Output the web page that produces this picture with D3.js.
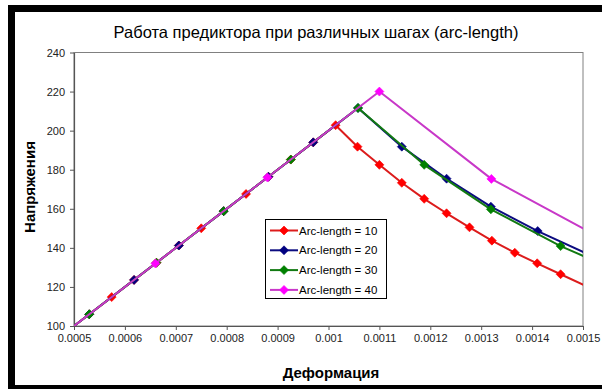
<!DOCTYPE html>
<html><head><meta charset="utf-8">
<script src="https://cdn.jsdelivr.net/npm/d3@7"></script>
<style>
body{margin:0;background:#fff}
svg{display:block}
text{font-family:"Liberation Sans",Arial,sans-serif}
</style>
</head><body>
<svg id="c" width="602" height="389"></svg>
<script>
// ---- data ----
const title = "Работа предиктора при различных шагах (arc-length)";
const xTitle = "Деформация";
const yTitle = "Напряжения";
const seriesNames = ["Arc-length = 10","Arc-length = 20","Arc-length = 30","Arc-length = 40"];
const xTickValues = [0.0005,0.0006,0.0007,0.0008,0.0009,0.001,0.0011,0.0012,0.0013,0.0014,0.0015];
const xTickLabels = ["0.0005","0.0006","0.0007","0.0008","0.0009","0.001","0.0011","0.0012","0.0013","0.0014","0.0015"];
const yTickValues = [100,120,140,160,180,200,220,240];

const strain10 = [0.000486,0.00053,0.000574,0.000618,0.000662,0.000706,0.00075,0.000794,0.000838,0.000882,0.000926,0.00097,0.001014,0.001057,0.0011,0.001144,0.001188,0.001232,0.001277,0.001321,0.001366,0.00141,0.001456,0.001502];
const stress10 = [97.2,106,114.8,123.6,132.4,141.2,150,158.8,167.6,176.4,185.2,194,202.8,191.8,182.5,173.3,165.1,157.7,150.5,143.7,137.5,132.1,126.5,120.9];

const strain20 = [0.000442,0.00053,0.000618,0.000706,0.000794,0.000882,0.00097,0.001058,0.001144,0.001232,0.001319,0.001411,0.001505];
const stress20 = [88.4,106,123.6,141.2,158.8,176.4,194,211.6,191.8,175.4,161.1,148.6,137.3];

const strain30 = [0.000398,0.00053,0.000662,0.000794,0.000926,0.001058,0.001188,0.001319,0.001456,0.001592];
const stress30 = [79.6,106,132.4,158.8,185.2,211.6,182.5,159.7,140.9,125.5];

const strain40 = [0.00044,0.00066,0.00088,0.0011,0.00132,0.00154];
const stress40 = [88,132,176,220,175.3,144.3];

const lineColors = ["#dc1c1c","#0c0c80","#127a12","#c838c8"];
const markerColors = ["#ff0000","#000080","#008000","#ff00ff"];

// ---- build ----
const strains = [strain10,strain20,strain30,strain40];
const stresses = [stress10,stress20,stress30,stress40];
const series = seriesNames.map((name,i)=>({name, line:lineColors[i], marker:markerColors[i],
  pts: strains[i].map((x,j)=>({x, y:stresses[i][j]}))}));

const svg = d3.select("#c");
const W = 602, H = 389;
const plot = {left:74, right:583, top:52.5, bottom:326};

// outer frame
svg.append("rect").attr("x",8).attr("y",5).attr("width",W).attr("height",H).attr("fill","#000");
svg.append("rect").attr("x",15).attr("y",12).attr("width",W-15).attr("height",385-12).attr("fill","#fff");

const x = d3.scaleLinear().domain([0.0005,0.0015]).range([plot.left,plot.right]);
const y = d3.scaleLinear().domain([100,240]).range([plot.bottom,plot.top]);

// plot area border
svg.append("rect").attr("x",plot.left).attr("y",plot.top)
  .attr("width",plot.right-plot.left).attr("height",plot.bottom-plot.top)
  .attr("fill","#fff").attr("stroke","#808080").attr("stroke-width",1);

svg.append("defs").append("clipPath").attr("id","clip")
  .append("rect").attr("x",plot.left).attr("y",plot.top)
  .attr("width",plot.right-plot.left).attr("height",plot.bottom-plot.top);

// axes
const xAxis = d3.axisBottom(x).tickValues(xTickValues)
  .tickFormat((d,i)=>xTickLabels[i]).tickSize(4).tickSizeOuter(0).tickPadding(4);
const gx = svg.append("g").attr("transform",`translate(0,${plot.bottom})`).call(xAxis);
const yAxis = d3.axisLeft(y).tickValues(yTickValues).tickSize(4).tickSizeOuter(0).tickPadding(5);
const gy = svg.append("g").attr("transform",`translate(${plot.left},0)`).call(yAxis);
[gx,gy].forEach(g=>{
  g.select(".domain").attr("stroke","#555").attr("stroke-width",1.2);
  g.selectAll(".tick line").attr("stroke","#555");
  g.selectAll(".tick text").attr("fill","#222").style("font-size","11px")
   .style("font-family",'"Liberation Sans",Arial,sans-serif');
});

// series
const line = d3.line().x(d=>x(d.x)).y(d=>y(d.y));
const diamond = "M0,-4.5L4.5,0L0,4.5L-4.5,0Z";
const gs = svg.append("g").attr("clip-path","url(#clip)");
series.forEach(s=>{
  const g = gs.append("g");
  g.append("path").datum(s.pts).attr("d",line).attr("fill","none")
    .attr("stroke",s.line).attr("stroke-width",2).attr("stroke-linejoin","round");
  g.selectAll("path.m").data(s.pts.filter(d=>d.x>0.0005 && d.x<=0.0015)).join("path")
    .attr("class","m").attr("d",diamond)
    .attr("transform",d=>`translate(${x(d.x)},${y(d.y)})`)
    .attr("fill",s.marker).attr("stroke",s.marker).attr("stroke-width",0.6);
});

// title & axis titles
svg.append("text").attr("x",316).attr("y",38).attr("text-anchor","middle")
  .style("font-size","16.5px").attr("fill","#000").text(title);
svg.append("text").attr("x",331).attr("y",378).attr("text-anchor","middle")
  .style("font-size","15px").style("font-weight","bold").attr("fill","#000").text(xTitle);
svg.append("text").attr("transform","translate(35,187) rotate(-90)").attr("text-anchor","middle")
  .style("font-size","15px").style("font-weight","bold").attr("fill","#000").text(yTitle);

// legend
const lg = svg.append("g");
lg.append("rect").attr("x",265.5).attr("y",219.5).attr("width",121).attr("height",79)
  .attr("fill","#fff").attr("stroke","#000").attr("stroke-width",1);
series.forEach((s,i)=>{
  const cy = 230.5 + i*19.8;
  lg.append("line").attr("x1",270).attr("x2",298).attr("y1",cy).attr("y2",cy)
    .attr("stroke",s.line).attr("stroke-width",2);
  lg.append("path").attr("d",diamond).attr("transform",`translate(284,${cy})`)
    .attr("fill",s.marker).attr("stroke",s.marker).attr("stroke-width",0.6);
  lg.append("text").attr("x",299).attr("y",cy+4).style("font-size","11.5px")
    .attr("fill","#000").text(s.name);
});
</script>
</body></html>
